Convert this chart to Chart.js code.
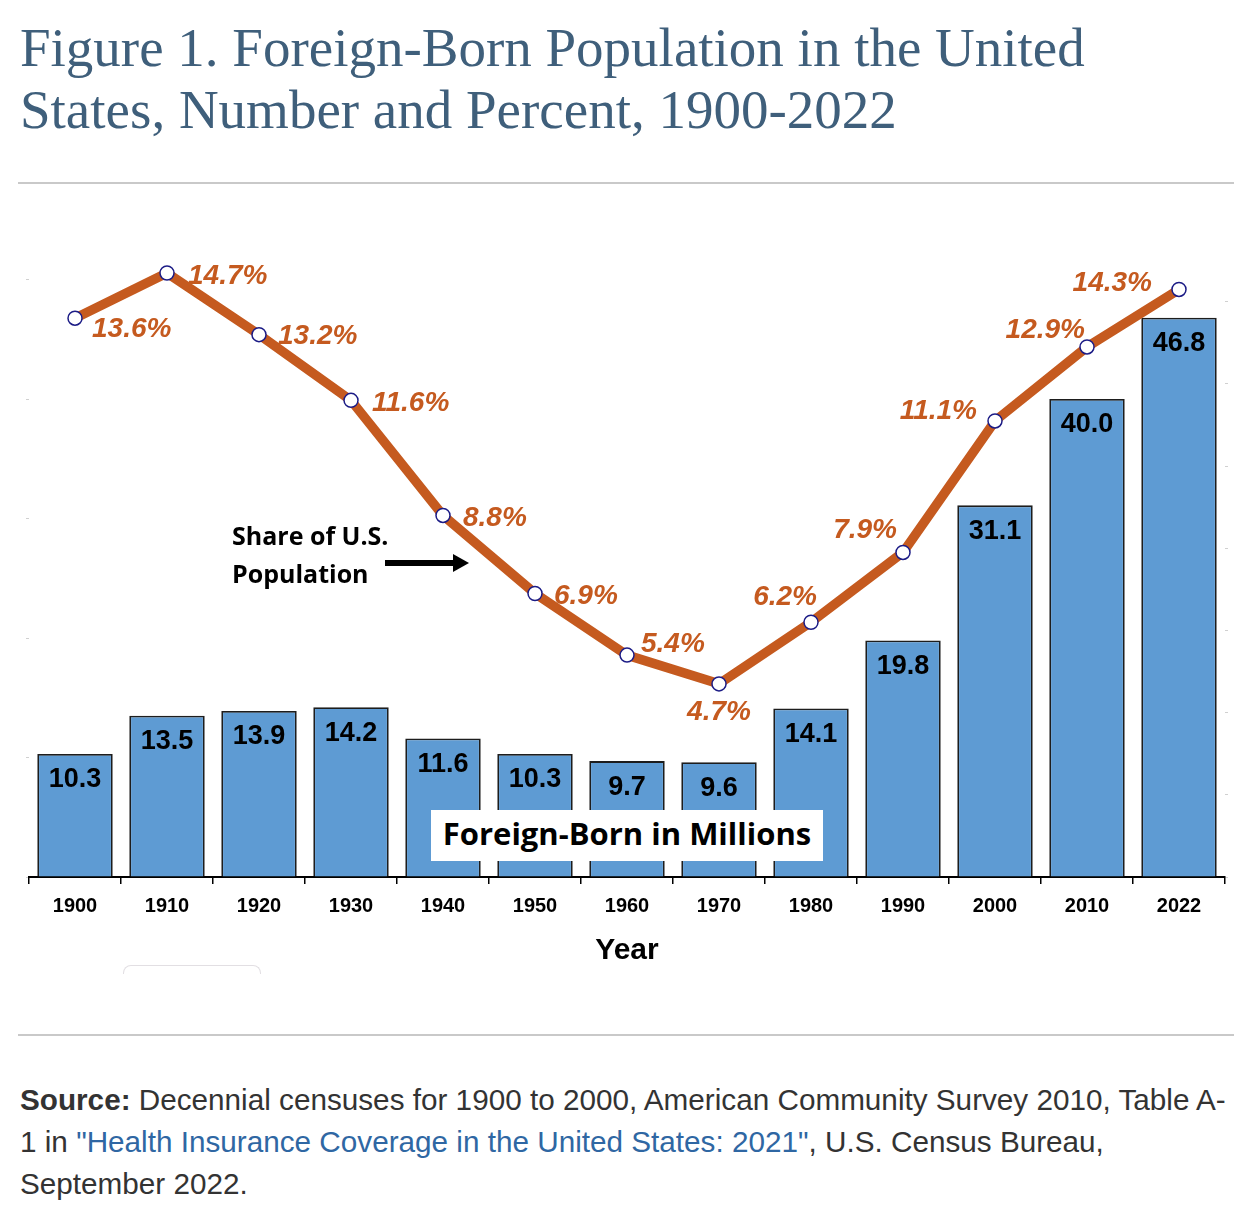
<!DOCTYPE html>
<html>
<head>
<meta charset="utf-8">
<script src="https://cdn.jsdelivr.net/npm/chart.js@4.4.0/dist/chart.umd.min.js"></script>
<style>
  body { margin:0; background:#fff; width:1252px; height:1222px; position:relative; overflow:hidden; }
  .title { position:absolute; left:20px; top:17px; font-family:"Liberation Serif","Times New Roman",serif; font-size:55px; line-height:62px; color:#3f5f7b; }
  .rule { position:absolute; left:18px; width:1216px; height:2px; background:#c9c9c9; }
  #wrap { position:absolute; left:0; top:140px; width:1252px; height:860px; }
  .note { position:absolute; font-family:"Open Sans","Noto Sans",sans-serif; font-weight:bold; color:#000; }
  .box { position:absolute; left:431px; top:810px; width:392px; height:51px; background:#fff; z-index:2;
         font-family:"Open Sans","Noto Sans",sans-serif; font-weight:bold; font-size:31px; line-height:46px; text-align:center; color:#000; }
  .src { position:absolute; left:20px; top:1079px; font-family:"Liberation Sans",Arial,sans-serif; font-size:29.7px; line-height:42px; color:#333; white-space:nowrap; }
  .src a { color:#2f67a3; text-decoration:none; }
  .tab { position:absolute; left:123px; top:965px; width:136px; height:8px; border:1px solid #e2dfe3; border-bottom:none; border-radius:8px 8px 0 0; }
</style>
</head>
<body>
<div class="title">Figure 1. Foreign-Born Population in the United<br>States, Number and Percent, 1900-2022</div>
<div class="rule" style="top:182px"></div>
<div id="wrap"><canvas id="chart"></canvas></div>
<div class="note" style="left:232px; top:516px; font-size:25px; line-height:38px; z-index:2">Share of U.S.<br>Population</div>
<svg style="position:absolute; left:383px; top:552px; z-index:2" width="90" height="22">
  <rect x="2" y="8" width="70" height="6" fill="#000"/>
  <polygon points="70,2 86,11 70,20" fill="#000"/>
</svg>
<div class="box">Foreign-Born in Millions</div>
<div class="tab"></div>
<div class="rule" style="top:1034px"></div>
<div class="src"><b>Source:</b> Decennial censuses for 1900 to 2000, American Community Survey 2010, Table A-<br>1 in <a>"Health Insurance Coverage in the United States: 2021"</a>, U.S. Census Bureau,<br>September 2022.</div>

<script>
// data
const years = ['1900','1910','1920','1930','1940','1950','1960','1970','1980','1990','2000','2010','2022'];
const foreignBornMillions = [10.3, 13.5, 13.9, 14.2, 11.6, 10.3, 9.7, 9.6, 14.1, 19.8, 31.1, 40.0, 46.8];
const shareOfPopulation = [13.6, 14.7, 13.2, 11.6, 8.8, 6.9, 5.4, 4.7, 6.2, 7.9, 11.1, 12.9, 14.3];

// where each percent label sits relative to its point: [dx, dy, align]
const pctLabelPos = [
  [17, 11, 'left'], [21, 3, 'left'], [19, 2, 'left'], [21, 3, 'left'], [20, 3, 'left'],
  [19, 3, 'left'], [14, -11, 'left'], [0, 28, 'center'], [6, -25, 'right'], [-6, -22, 'right'],
  [-18, -10, 'right'], [-2, -17, 'right'], [-27, -6, 'right']
];

const orange = '#c55a1f';

// draws the value labels on bars and line points
const valueLabels = {
  id: 'valueLabels',
  afterDatasetsDraw(chart){
    const ctx = chart.ctx;
    ctx.save();
    const bars = chart.getDatasetMeta(0).data;
    ctx.font = 'bold 27px "Liberation Sans", Arial, sans-serif';
    ctx.fillStyle = '#000';
    ctx.textAlign = 'center';
    ctx.textBaseline = 'middle';
    bars.forEach((b, i) => {
      ctx.fillText(foreignBornMillions[i].toFixed(1), b.x, b.y + 26);
    });
    const pts = chart.getDatasetMeta(1).data;
    ctx.font = 'italic bold 28px "Liberation Sans", Arial, sans-serif';
    ctx.fillStyle = orange;
    pts.forEach((p, i) => {
      const [dx, dy, al] = pctLabelPos[i];
      ctx.textAlign = al;
      ctx.fillText(shareOfPopulation[i].toFixed(1) + '%', p.x + dx, p.y + dy);
    });
    ctx.restore();
  }
};

new Chart(document.getElementById('chart'), {
  data: {
    labels: years,
    datasets: [
      {
        type: 'bar',
        data: foreignBornMillions,
        yAxisID: 'y',
        backgroundColor: '#5e9bd3',
        borderColor: '#1d1d1d',
        borderWidth: 1.8,
        categoryPercentage: 1,
        barPercentage: 0.82,
        order: 2
      },
      {
        type: 'line',
        data: shareOfPopulation,
        yAxisID: 'y1',
        borderColor: orange,
        borderWidth: 9.5,
        pointRadius: 7,
        pointBackgroundColor: '#fff',
        pointBorderColor: '#1c1c86',
        pointBorderWidth: 1.5,
        tension: 0,
        order: 1
      }
    ]
  },
  options: {
    responsive: true,
    maintainAspectRatio: false,
    animation: false,
    layout: { padding: { top: 20, left: 26, right: 24, bottom: 0 } },
    plugins: { legend: { display: false }, tooltip: { enabled: false } },
    scales: {
      x: {
        offset: true,
        grid: { offset: true, drawOnChartArea: false, tickLength: 7, color: '#000', lineWidth: 1.5 },
        border: { color: '#000', width: 2 },
        ticks: { color: '#000', font: { family: '"Liberation Sans", Arial, sans-serif', size: 20, weight: 'bold' }, padding: 10 },
        title: { display: true, text: 'Year', color: '#000', font: { family: '"Liberation Sans", Arial, sans-serif', size: 30, weight: 'bold' }, padding: { top: 0, bottom: 31 } },
        afterFit(scale){ scale.height = 123; }
      },
      y: {
        position: 'left',
        min: 0, max: 60,
        ticks: { display: false, stepSize: 10 },
        grid: { drawOnChartArea: false, tickLength: 3, color: c => c.tick && c.tick.value > 50 ? 'rgba(0,0,0,0)' : '#d0d0d0' },
        border: { display: false },
        afterFit(scale){ scale.width = 3; }
      },
      y1: {
        position: 'right',
        min: 0, max: 17.45,
        ticks: { display: false, stepSize: 2 },
        grid: { drawOnChartArea: false, tickLength: 3, color: c => c.tick && c.tick.value > 14 ? 'rgba(0,0,0,0)' : '#d0d0d0' },
        border: { display: false },
        afterFit(scale){ scale.width = 3; }
      }
    }
  },
  plugins: [valueLabels]
});
</script>
</body>
</html>
